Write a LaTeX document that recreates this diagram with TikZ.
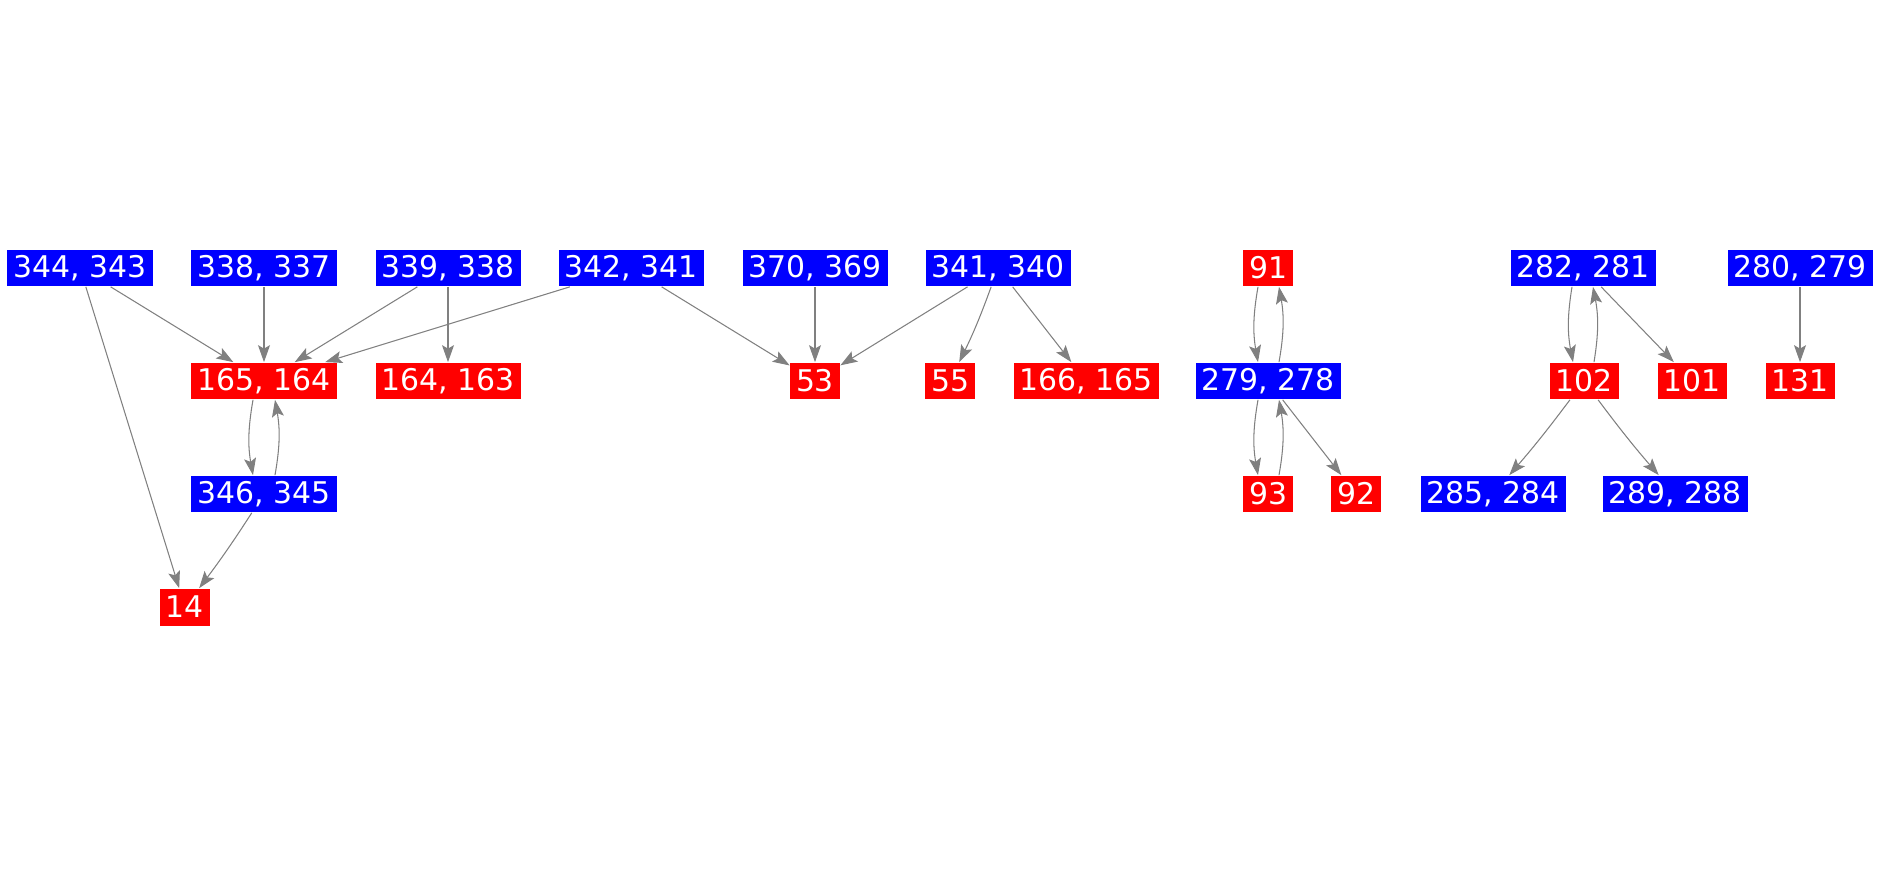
\documentclass[tikz,border=0pt]{standalone}
\usepackage{fontspec}
\setmainfont{DejaVu Sans}
\usetikzlibrary{arrows.meta}
\begin{document}
\begin{tikzpicture}[
    x=0.02cm, y=-0.02cm,
    box/.style={minimum height=0.74cm, inner xsep=0.12cm, inner ysep=0pt, text=white, font=\fontsize{17}{19}\selectfont},
    bbox/.style={box, fill=blue},
    rbox/.style={box, fill=red},
    link/.style={draw=gray, line width=0.6pt, -{Stealth[length=0.34cm, width=0.24cm, inset=0.07cm]}}
]
    \useasboundingbox (0,0) rectangle (1881,875);

    % --- top row ---
    \node[bbox] (n344) at (80,268) {344, 343};
    \node[bbox] (n338) at (264,268) {338, 337};
    \node[bbox] (n339) at (448,268) {339, 338};
    \node[bbox] (n342) at (631,268) {342, 341};
    \node[bbox] (n370) at (815,268) {370, 369};
    \node[bbox] (n341) at (998,268) {341, 340};
    \node[rbox] (n91) at (1268,268) {91};
    \node[bbox] (n282) at (1583,268) {282, 281};
    \node[bbox] (n280) at (1800,268) {280, 279};

    % --- second row ---
    \node[rbox] (n165) at (264,381) {165, 164};
    \node[rbox] (n164) at (448,381) {164, 163};
    \node[rbox] (n53) at (815,381) {53};
    \node[rbox] (n55) at (950,381) {55};
    \node[rbox] (n166) at (1086,381) {166, 165};
    \node[bbox] (n279) at (1268,381) {279, 278};
    \node[rbox] (n102) at (1584,381) {102};
    \node[rbox] (n101) at (1692,381) {101};
    \node[rbox] (n131) at (1800,381) {131};

    % --- third row ---
    \node[bbox] (n346) at (264,494) {346, 345};
    \node[rbox] (n93) at (1268,494) {93};
    \node[rbox] (n92) at (1356,494) {92};
    \node[bbox] (n285) at (1493,494) {285, 284};
    \node[bbox] (n289) at (1675,494) {289, 288};

    % --- fourth row ---
    \node[rbox] (n14) at (185,607) {14};

    % --- edges ---
    \draw[link] (n344) -- (n165);
    \draw[link] (n344) -- (n14);
    \draw[link] (n338) -- (n165);
    \draw[link] (n339) -- (n165);
    \draw[link] (n339) -- (n164);
    \draw[link] (n342) -- (n165);
    \draw[link] (n342) -- (n53);
    \draw[link] (n370) -- (n53);
    \draw[link] (n341) -- (n53);
    \draw[link] (n341) to[bend left=3] (n55);
    \draw[link] (n341) -- (n166);
    \draw[link] ([xshift=-0.22cm]n165.south) to[bend right=10] ([xshift=-0.22cm]n346.north);
    \draw[link] ([xshift=0.22cm]n346.north) to[bend right=10] ([xshift=0.22cm]n165.south);
    \draw[link] (n346) to[bend left=2] (n14);
    \draw[link] ([xshift=-0.2cm]n91.south) to[bend right=10] ([xshift=-0.2cm]n279.north);
    \draw[link] ([xshift=0.22cm]n279.north) to[bend right=10] ([xshift=0.22cm]n91.south);
    \draw[link] ([xshift=-0.2cm]n279.south) to[bend right=10] ([xshift=-0.2cm]n93.north);
    \draw[link] ([xshift=0.22cm]n93.north) to[bend right=10] ([xshift=0.22cm]n279.south);
    \draw[link] (n279) -- (n92);
    \draw[link] ([xshift=-0.22cm]n282.south) to[bend right=10] ([xshift=-0.22cm]n102.north);
    \draw[link] ([xshift=0.2cm]n102.north) to[bend right=10] ([xshift=0.2cm]n282.south);
    \draw[link] (n282) -- (n101);
    \draw[link] (n102) to[bend left=2] (n285);
    \draw[link] (n102) to[bend right=2] (n289);
    \draw[link] (n280) -- (n131);
\end{tikzpicture}
\end{document}
